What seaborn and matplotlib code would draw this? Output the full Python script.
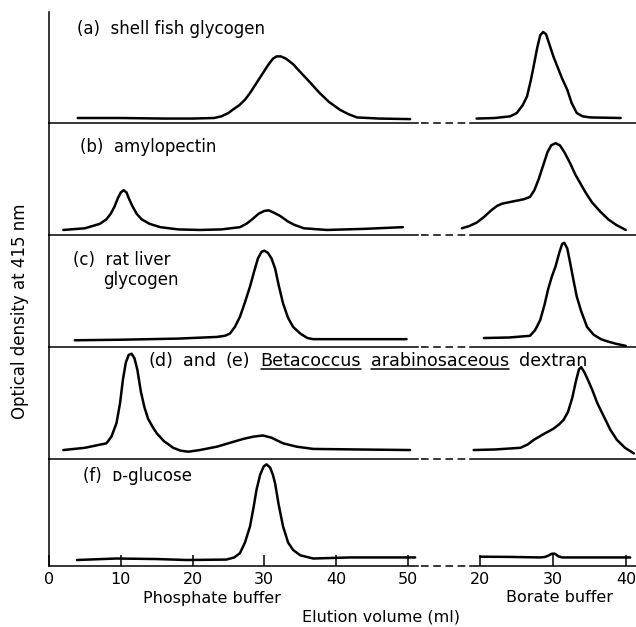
import matplotlib
matplotlib.use("Agg")
from matplotlib import pyplot as plt
from matplotlib.lines import Line2D
import seaborn as sns

# elution volume (ml) and optical density (fraction of panel height)
# phosphate buffer column / borate buffer column, one pair per panel
a_phos_x = [4, 10, 16, 20, 23, 24, 25, 25.6, 26.5, 27.3, 28, 28.8, 29.5, 30.5, 31.2, 31.7, 32.3, 33, 34, 35,
            36.3, 37.7, 39, 40.5, 41.7, 42.9, 46, 50.3]
a_phos_y = [0.045, 0.045, 0.04, 0.04, 0.045, 0.06, 0.09, 0.12, 0.16, 0.21, 0.27, 0.35, 0.42, 0.52, 0.58, 0.6,
            0.6, 0.58, 0.53, 0.46, 0.37, 0.27, 0.19, 0.12, 0.08, 0.05, 0.04, 0.035]
a_bor_x = [19.5, 22, 24.1, 25, 25.8, 26.4, 26.9, 27.3, 27.8, 28.2, 28.6, 29, 29.4, 30, 30.6, 31.2, 31.9, 32.5,
           33.2, 34, 35.1, 39.2]
a_bor_y = [0.04, 0.045, 0.06, 0.09, 0.16, 0.24, 0.38, 0.51, 0.68, 0.79, 0.82, 0.8, 0.72, 0.6, 0.5, 0.4, 0.3,
           0.18, 0.09, 0.06, 0.05, 0.045]

b_phos_x = [2, 5, 7.1, 8, 8.6, 9.1, 9.6, 10, 10.4, 10.8, 11.1, 11.6, 12.2, 12.9, 14, 15.5, 18, 21, 24, 26.6,
            27.5, 28.3, 29.2, 30, 30.6, 31.3, 32.2, 33.3, 34.2, 35.5, 38.7, 44, 49.3]
b_phos_y = [0.045, 0.06, 0.1, 0.14, 0.19, 0.25, 0.33, 0.38, 0.4, 0.38, 0.33, 0.26, 0.19, 0.14, 0.1, 0.07,
            0.05, 0.045, 0.05, 0.07, 0.1, 0.14, 0.19, 0.215, 0.22, 0.2, 0.17, 0.12, 0.09, 0.06, 0.045, 0.055, 0.07]
b_bor_x = [17.5, 18.5, 19.5, 20.5, 21.5, 22.3, 23, 24.5, 26, 26.8, 27.4, 28, 28.6, 29.2, 29.7, 30.3, 30.9,
           31.5, 32.3, 33, 33.7, 34.4, 35.3, 36.4, 37.5, 38.6, 39.9]
b_bor_y = [0.06, 0.08, 0.11, 0.16, 0.22, 0.26, 0.28, 0.3, 0.32, 0.34, 0.4, 0.5, 0.62, 0.74, 0.8, 0.82, 0.8,
           0.74, 0.64, 0.54, 0.46, 0.38, 0.29, 0.21, 0.14, 0.09, 0.045]

c_phos_x = [3.6, 10, 18, 23.4, 24.5, 25.2, 25.9, 26.6, 27.3, 28, 28.6, 29.1, 29.6, 30, 30.5, 31, 31.5, 32,
            32.6, 33.3, 34, 35, 36, 36.8, 42, 49.8]
c_phos_y = [0.06, 0.065, 0.075, 0.09, 0.1, 0.12, 0.18, 0.27, 0.4, 0.54, 0.68, 0.79, 0.85, 0.86, 0.84, 0.79,
            0.7, 0.55, 0.39, 0.26, 0.18, 0.12, 0.08, 0.07, 0.07, 0.07]
c_bor_x = [20.5, 24, 26.8, 27.5, 28.2, 28.8, 29.3, 29.8, 30.3, 30.8, 31.2, 31.5, 31.9, 32.3, 32.8, 33.2, 33.8,
           34.6, 35.5, 36.5, 37.4, 38.5, 39.9]
c_bor_y = [0.08, 0.085, 0.1, 0.15, 0.24, 0.38, 0.52, 0.63, 0.72, 0.84, 0.92, 0.93, 0.88, 0.75, 0.58, 0.45,
           0.32, 0.18, 0.11, 0.07, 0.05, 0.03, 0.01]

d_phos_x = [2, 5, 8, 8.7, 9.4, 9.9, 10.3, 10.7, 11.1, 11.5, 11.9, 12.3, 12.8, 13.3, 13.8, 14.4, 15, 16, 17.3,
            18.3, 19.4, 21, 23.4, 25.5, 27.1, 28.5, 29.8, 31, 32.6, 34.5, 36.8, 43, 50.3]
d_phos_y = [0.08, 0.1, 0.14, 0.2, 0.32, 0.5, 0.71, 0.86, 0.93, 0.94, 0.9, 0.8, 0.6, 0.46, 0.36, 0.29, 0.23,
            0.16, 0.1, 0.075, 0.065, 0.08, 0.11, 0.15, 0.18, 0.2, 0.21, 0.19, 0.14, 0.11, 0.09, 0.085, 0.08]
d_bor_x = [19.1, 22, 25.5, 26.5, 27.3, 28.6, 30, 30.8, 31.4, 32, 32.6, 33.1, 33.5, 33.8, 34.2, 34.7, 35.3, 36,
           36.9, 37.8, 38.7, 39.8, 41]
d_bor_y = [0.08, 0.085, 0.1, 0.13, 0.17, 0.22, 0.27, 0.31, 0.35, 0.42, 0.55, 0.7, 0.8, 0.82, 0.78, 0.71, 0.62,
           0.5, 0.38, 0.26, 0.17, 0.1, 0.05]

f_phos_x = [3.9, 9.4, 15, 19.2, 24.7, 25.8, 26.6, 27.3, 28, 28.5, 28.9, 29.4, 29.9, 30.3, 30.8, 31.2, 31.5, 32,
            32.6, 33.3, 34, 35, 36.8, 42, 51]
f_phos_y = [0.056, 0.07, 0.065, 0.056, 0.06, 0.08, 0.12, 0.22, 0.37, 0.55, 0.71, 0.85, 0.93, 0.95, 0.92, 0.85,
            0.77, 0.57, 0.37, 0.22, 0.15, 0.1, 0.07, 0.08, 0.08]
f_bor_x = [20, 24, 28.2, 28.9, 29.4, 29.8, 30.2, 30.7, 31.2, 36, 40.5]
f_bor_y = [0.087, 0.085, 0.08, 0.085, 0.1, 0.115, 0.115, 0.09, 0.08, 0.08, 0.08]

phos_ticks = [0, 10, 20, 30, 40, 50]
bor_ticks = [20, 30, 40]

panels = [(a_phos_x, a_phos_y, a_bor_x, a_bor_y),
          (b_phos_x, b_phos_y, b_bor_x, b_bor_y),
          (c_phos_x, c_phos_y, c_bor_x, c_bor_y),
          (d_phos_x, d_phos_y, d_bor_x, d_bor_y),
          (f_phos_x, f_phos_y, f_bor_x, f_bor_y)]

sns.set_style("white")
plt.rcParams['font.family'] = ['DejaVu Sans']
plt.rcParams['text.color'] = 'black'
plt.rcParams['xtick.color'] = 'black'
plt.rcParams['axes.edgecolor'] = 'black'

W, H = 636, 627
fig = plt.figure(figsize=(W / 100, H / 100), dpi=100)

def fx(px):
    return px / W

def fy(py):
    return 1 - py / H

tops = [12, 123, 235, 347, 459]
bottoms = [123, 235, 347, 459, 566]
lw_curve = 1.8
lw_axis = 1.1

for i, (px, py, bx, by) in enumerate(panels):
    top, bot = tops[i], bottoms[i]
    axL = fig.add_axes([fx(49), fy(bot), fx(418) - fx(49), (bot - top) / H])
    axR = fig.add_axes([fx(470), fy(bot), fx(636) - fx(470), (bot - top) / H])
    sns.lineplot(x=px, y=py, ax=axL, color='black', linewidth=lw_curve, estimator=None, sort=False)
    sns.lineplot(x=bx, y=by, ax=axR, color='black', linewidth=lw_curve, estimator=None, sort=False)
    axL.set_xlim(0, 51.4)
    axR.set_xlim(18.6, 41.3)
    for ax in (axL, axR):
        ax.set_ylim(0, 1)
        ax.set_yticks([])
        ax.set_xlabel('')
        ax.set_ylabel('')
        ax.patch.set_alpha(0)
        for l in ax.lines:
            l.set_clip_on(False)
            l.set_solid_joinstyle('round')
        for s in ['top', 'right']:
            ax.spines[s].set_visible(False)
        ax.spines['bottom'].set_linewidth(lw_axis)
    axL.spines['left'].set_linewidth(lw_axis)
    axR.spines['left'].set_visible(False)
    if i == len(panels) - 1:
        axL.set_xticks(phos_ticks)
        axR.set_xticks(bor_ticks)
        for ax in (axL, axR):
            ax.tick_params(axis='x', direction='in', length=8, width=lw_axis, labelsize=11.5, pad=4,
                           colors='black', bottom=True)
    else:
        axL.set_xticks([])
        axR.set_xticks([])
    # broken baseline between the two buffer columns
    fig.add_artist(Line2D([fx(421), fx(468)], [fy(bot), fy(bot)], transform=fig.transFigure,
                          color='black', lw=lw_axis, linestyle=(0, (5, 3))))

fs = 12
fig.text(fx(77), fy(29), "(a)  shell fish glycogen", fontsize=fs, va='center')
fig.text(fx(80), fy(147), "(b)  amylopectin", fontsize=fs, va='center')
fig.text(fx(73), fy(260), "(c)  rat liver", fontsize=fs, va='center')
fig.text(fx(103), fy(280), "glycogen", fontsize=fs, va='center')
fig.text(fx(83), fy(476), "(f)  ᴅ-glucose", fontsize=fs, va='center')

# (d) label with underlined species names, laid out word by word
renderer = fig.canvas.get_renderer()
d_words = [("(d)", False), ("and", False), ("(e)", False),
           ("Betacoccus", True), ("arabinosaceous", True), ("dextran", False)]
xpos = 148
for word, under in d_words:
    t = fig.text(fx(xpos), fy(361), word, fontsize=12.6, va='center')
    bb = t.get_window_extent(renderer=renderer)
    if under:
        fig.add_artist(Line2D([bb.x0 / W, bb.x1 / W], [(bb.y0 + 1) / H] * 2,
                              transform=fig.transFigure, color='black', lw=lw_axis))
    xpos = bb.x1 + 10

fs2 = 11.5
fig.text(fx(20), fy(311), "Optical density at 415 nm", rotation=90, fontsize=fs, va='center', ha='center')
fig.text(fx(212), fy(598), "Phosphate buffer", fontsize=fs2, va='center', ha='center')
fig.text(fx(559), fy(598), "Borate buffer", fontsize=fs2, va='center', ha='center')
fig.text(fx(381), fy(617), "Elution volume (ml)", fontsize=fs2, va='center', ha='center')

fig.savefig("out.png", dpi=100)
